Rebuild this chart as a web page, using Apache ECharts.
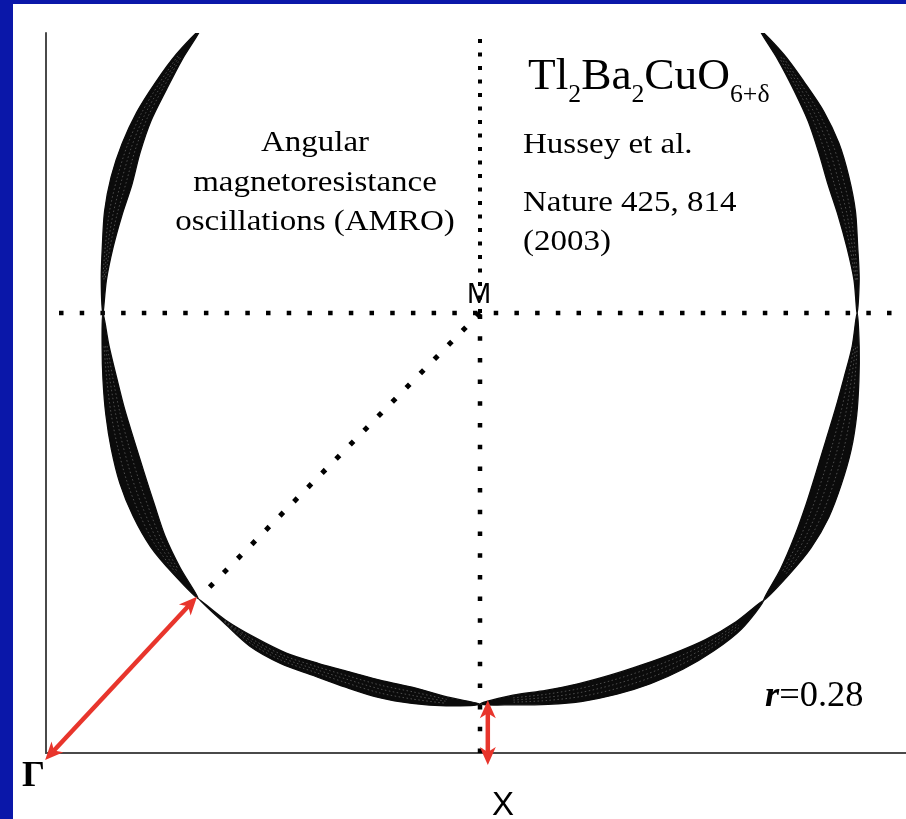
<!DOCTYPE html>
<html>
<head>
<meta charset="utf-8">
<script src="https://cdn.jsdelivr.net/npm/echarts@6/dist/echarts.min.js"></script>
<style>
  html, body { margin: 0; padding: 0; background: #ffffff; }
  #chart { width: 906px; height: 819px; }
</style>
</head>
<body>
<div id="chart"></div>
<script>
// Quadrant of the Brillouin zone, k in units of pi/a: Gamma=(0,0), X=(1,0), M=(1,1).
const GAMMA = [0, 0];
const X_POINT = [1, 0];
const M_POINT = [1, 1];

// Fermi surface centred on M, in polar form around M.
// fsAngle: direction from M (deg, counter-clockwise from +kx)
// fsRadius: mean k_F along that direction; fsWidth: spread of k_F over kz (projected warping)
const fsAngle = [135,140,145,150,155,160,165,170,175,180,
                 185,190,195,200,205,210,215,220,225,
                 230,235,240,245,250,255,260,265,270,
                 275,280,285,290,295,300,305,310,315,
                 320,325,330,335,340,345,350,355,360,
                 365,370,375,380,385,390,395,400,405];
const fsRadius = [0.911,0.905,0.898,0.894,0.887,0.879,0.875,0.871,0.870,0.869,
                  0.866,0.866,0.870,0.876,0.885,0.895,0.906,0.912,0.918,
                  0.915,0.913,0.906,0.894,0.887,0.885,0.883,0.886,0.889,
                  0.883,0.887,0.893,0.899,0.906,0.914,0.922,0.927,0.924,
                  0.916,0.908,0.898,0.887,0.879,0.873,0.869,0.869,0.869,
                  0.871,0.871,0.875,0.879,0.887,0.894,0.898,0.905,0.911];
const fsWidth = [0.000,0.018,0.030,0.038,0.046,0.051,0.041,0.025,0.012,0.000,
                 0.016,0.032,0.045,0.056,0.061,0.056,0.041,0.021,0.000,
                 0.007,0.023,0.027,0.030,0.036,0.039,0.036,0.020,0.000,
                 0.022,0.032,0.041,0.046,0.047,0.042,0.032,0.021,0.000,
                 0.023,0.046,0.060,0.064,0.062,0.051,0.035,0.016,0.000,
                 0.012,0.025,0.041,0.051,0.051,0.042,0.030,0.018,0.000];
// nodes (zero warping) split the surface into lobes
const fsNodes = [135, 180, 225, 270, 315, 360, 405];

// Fermi wavevectors marked with red double arrows: [x1, y1, x2, y2]
const diagonalArrow = [-0.002, -0.016, 0.348, 0.355];
const axialArrow = [1.018, 0.120, 1.018, -0.027];

// Symmetry lines (dotted)
const lineXM = [X_POINT, M_POINT];
const lineMTop = [M_POINT, [1, 1.64]];
const lineMY = [[0.03, 1], [2.02, 1]];
const lineMGamma = [M_POINT, [0.36, 0.36]];

// Text
const amroLines = ['Angular', 'magnetoresistance', 'oscillations (AMRO)'];
const refLines = ['Hussey et al.', 'Nature 425, 814', '(2003)'];
const formulaParts = [['Tl', 0], ['2', 1], ['Ba', 0], ['2', 1], ['CuO', 0], ['6+\u03b4', 1]];
const ratioLabel = ['r', '=0.28'];

const SERIF = '"Liberation Serif", "Times New Roman", serif';
const SANS = '"Liberation Sans", Arial, sans-serif';

const ctx = document.createElement('canvas').getContext('2d');
function measure(text, size, family, weight, style) {
  ctx.font = (style || 'normal') + ' ' + (weight || 'normal') + ' ' + size + 'px ' + family;
  return ctx.measureText(text).width;
}

// text element placed by its baseline
function textAt(text, x, baseline, size, opts) {
  opts = opts || {};
  const fam = opts.family || SERIF;
  const asc = fam === SANS ? 0.3465 : 0.3375;
  return {
    type: 'text',
    x: x,
    y: baseline - asc * size,
    scaleX: opts.scaleX || 1,
    silent: true,
    style: {
      text: text,
      x: 0, y: 0,
      fill: opts.color || '#000',
      font: (opts.fontStyle || 'normal') + ' ' + (opts.weight || 'normal') + ' ' + size + 'px ' + fam,
      textAlign: opts.align || 'left',
      verticalAlign: 'middle'
    }
  };
}

const graphics = [];
// blue frame
graphics.push({ type: 'rect', silent: true, shape: { x: 0, y: 0, width: 13, height: 819 }, style: { fill: '#0a17a9' } });
graphics.push({ type: 'rect', silent: true, shape: { x: 0, y: 0, width: 906, height: 4 }, style: { fill: '#0a17a9' } });

// AMRO caption
const amroBase = [153, 193, 232];
amroLines.forEach((t, i) => graphics.push(textAt(t, 315, amroBase[i], 30, { align: 'center', scaleX: 1.1 })));

// reference
const refBase = [155, 213, 252];
refLines.forEach((t, i) => graphics.push(textAt(t, 523, refBase[i], 30, { scaleX: 1.1 })));

// chemical formula with subscripts
(function () {
  let x = 528;
  const sx = 1.03;
  formulaParts.forEach(([t, sub]) => {
    const size = sub ? 25 : 44;
    const base = sub ? 104 : 92;
    graphics.push(textAt(t, x, base, size, { scaleX: sx }));
    x += measure(t, size, SERIF) * sx;
  });
})();

// r = 0.28
(function () {
  const size = 35;
  let x = 765;
  graphics.push(textAt(ratioLabel[0], x, 709, size, { fontStyle: 'italic', weight: 'bold', scaleX: 1.04 }));
  x += measure(ratioLabel[0], size, SERIF, 'bold', 'italic') * 1.04;
  graphics.push(textAt(ratioLabel[1], x, 709, size, { scaleX: 1.04 }));
})();

// symmetry point labels
graphics.push(textAt('\u0393', 22, 789, 36, { weight: 'bold' }));
graphics.push(textAt('X', 503, 817, 33, { family: SANS, align: 'center' }));
graphics.push(textAt('M', 479, 305, 29, { family: SANS, align: 'center' }));

function dotted(data, dash, size) {
  return {
    type: 'line',
    data: data,
    symbol: 'none',
    silent: true,
    animation: false,
    clip: false,
    z: 3,
    lineStyle: { color: '#000', width: size, type: dash, cap: 'butt' }
  };
}

function arrowItem(params, api) {
  const a = api.coord([api.value(0), api.value(1)]);
  const b = api.coord([api.value(2), api.value(3)]);
  const dx = b[0] - a[0], dy = b[1] - a[1];
  const len = Math.hypot(dx, dy);
  const ux = dx / len, uy = dy / len;
  const nx = -uy, ny = ux;
  const hl = 18, hw = 8;
  const col = '#e8352c';
  const head = (p, dir) => ({
    type: 'polygon',
    shape: { points: [
      p,
      [p[0] - dir * ux * hl + nx * hw, p[1] - dir * uy * hl + ny * hw],
      [p[0] - dir * ux * hl * 0.72, p[1] - dir * uy * hl * 0.72],
      [p[0] - dir * ux * hl - nx * hw, p[1] - dir * uy * hl - ny * hw]
    ] },
    style: { fill: col }
  });
  return {
    type: 'group',
    children: [
      { type: 'line', shape: { x1: a[0] + ux * hl * 0.7, y1: a[1] + uy * hl * 0.7, x2: b[0] - ux * hl * 0.7, y2: b[1] - uy * hl * 0.7 },
        style: { stroke: col, lineWidth: 4.5 } },
      head(b, 1),
      head(a, -1)
    ]
  };
}

// point of the surface at index i, offset by f half-widths from the mean radius
function fsPoint(api, i, f) {
  const t = fsAngle[i] * Math.PI / 180;
  const r = fsRadius[i] + f * fsWidth[i] / 2;
  return api.coord([M_POINT[0] + r * Math.cos(t), M_POINT[1] + r * Math.sin(t)]);
}

function lobeItem(params, api) {
  const n = params.dataIndex;
  const i0 = fsAngle.indexOf(fsNodes[n]);
  const i1 = fsAngle.indexOf(fsNodes[n + 1]);
  const outer = [], inner = [];
  for (let i = i0; i <= i1; i++) outer.push(fsPoint(api, i, 1));
  for (let i = i1 - 1; i > i0; i--) inner.push(fsPoint(api, i, -1));
  const children = [{
    type: 'polygon',
    shape: { points: outer.concat(inner), smooth: 0.3 },
    style: { fill: '#0b0b0b', stroke: '#0b0b0b', lineWidth: 1.3 }
  }];
  // fine kz-slice contours showing through the dark band
  [-0.45, 0, 0.45].forEach(f => {
    const pts = [];
    for (let i = i0 + 1; i < i1; i++) pts.push(fsPoint(api, i, f));
    children.push({
      type: 'polyline',
      shape: { points: pts, smooth: 0.3 },
      style: { stroke: 'rgba(255,255,255,0.35)', lineWidth: 0.8, lineDash: [1.5, 2.5], fill: null }
    });
  });
  return { type: 'group', children: children };
}

const chart = echarts.init(document.getElementById('chart'), null, { renderer: 'canvas' });
chart.setOption({
  backgroundColor: '#ffffff',
  animation: false,
  grid: { left: 46, top: 33, width: 860, height: 720, containLabel: false },
  xAxis: {
    type: 'value', min: 0, max: 860 / 434,
    axisLine: { show: true, onZero: false, lineStyle: { color: '#4a4a4a', width: 2 } },
    axisTick: { show: false }, axisLabel: { show: false }, splitLine: { show: false }
  },
  yAxis: {
    type: 'value', min: 0, max: 720 / 440,
    axisLine: { show: true, onZero: false, lineStyle: { color: '#4a4a4a', width: 2 } },
    axisTick: { show: false }, axisLabel: { show: false }, splitLine: { show: false }
  },
  series: [
    {
      type: 'custom',
      renderItem: lobeItem,
      data: fsNodes.slice(1).map((v, i) => [i]),
      clip: true,
      silent: true,
      z: 4
    },
    dotted(lineXM, [4.5, 17.2], 4.5),
    dotted(lineMTop, [4, 9.5], 4),
    dotted(lineMY, [4.5, 16.2], 4.5),
    dotted(lineMGamma, [5, 15], 5),
    {
      type: 'custom',
      renderItem: arrowItem,
      data: [diagonalArrow, axialArrow],
      clip: false,
      silent: true,
      z: 6
    }
  ],
  graphic: graphics
});
</script>
</body>
</html>
